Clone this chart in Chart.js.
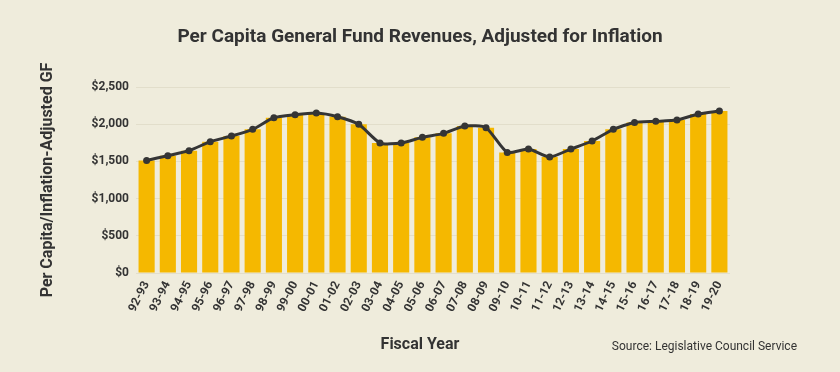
<!DOCTYPE html>
<html>
<head>
<meta charset="utf-8">
<script src="https://cdn.jsdelivr.net/npm/chart.js@4"></script>
<style>
  html, body { margin: 0; padding: 0; background: #EFECDC; }
  #wrap { width: 840px; height: 372px; }
</style>
</head>
<body>
<div id="wrap"><canvas id="c" width="840" height="372"></canvas></div>
<script>
const categories = ["92-93","93-94","94-95","95-96","96-97","97-98","98-99","99-00","00-01","01-02","02-03","03-04","04-05","05-06","06-07","07-08","08-09","09-10","10-11","11-12","12-13","13-14","14-15","15-16","16-17","17-18","18-19","19-20"];
const barValues = [1513,1577,1644,1765,1841,1931,2088,2128,2150,2101,1998,1747,1747,1823,1877,1976,1953,1621,1666,1559,1666,1774,1931,2024,2038,2056,2137,2177];
const lineValues = [1513,1577,1644,1765,1841,1931,2088,2128,2150,2101,1998,1747,1747,1823,1877,1976,1953,1621,1666,1559,1666,1774,1931,2024,2038,2056,2137,2177];
const yTicks = [0, 500, 1000, 1500, 2000, 2500];
const titleText = "Per Capita General Fund Revenues, Adjusted for Inflation";
const yTitle = "Per Capita/Inflation-Adjusted GF";
const xTitle = "Fiscal Year";
const sourceText = "Source: Legislative Council Service";

const FONT = "Roboto, 'Liberation Sans', sans-serif";
const DARK = "#333333";

const bgPlugin = {
  id: 'bg',
  beforeDraw(chart) {
    const ctx = chart.ctx;
    ctx.save();
    ctx.fillStyle = '#EFECDC';
    ctx.fillRect(0, 0, chart.width, chart.height);
    ctx.restore();
  }
};
const sourcePlugin = {
  id: 'source',
  afterDraw(chart) {
    const ctx = chart.ctx;
    ctx.save();
    ctx.font = "12px " + FONT;
    ctx.fillStyle = DARK;
    ctx.textAlign = 'right';
    ctx.textBaseline = 'middle';
    ctx.fillText(sourceText, 797, 347);
    ctx.restore();
  }
};

new Chart(document.getElementById('c'), {
  data: {
    labels: categories,
    datasets: [
      {
        type: 'line',
        data: lineValues,
        borderColor: '#353535',
        backgroundColor: '#353535',
        borderWidth: 3,
        pointRadius: 3.5,
        pointBorderWidth: 0,
        pointHoverRadius: 3.5,
        tension: 0.2,
        order: 0
      },
      {
        type: 'bar',
        data: barValues,
        backgroundColor: '#F5B800',
        barPercentage: 0.76,
        categoryPercentage: 1.0,
        order: 1
      }
    ]
  },
  options: {
    responsive: false,
    animation: false,
    devicePixelRatio: 1,
    layout: { padding: 0 },
    plugins: {
      legend: { display: false },
      tooltip: { enabled: false },
      title: {
        display: true,
        text: titleText,
        color: DARK,
        font: { family: FONT, size: 19, weight: 'bold' },
        padding: { top: 25.6, bottom: 38.6 }
      },
      subtitle: {
        display: true,
        position: 'bottom',
        text: xTitle,
        color: DARK,
        font: { family: FONT, size: 16, weight: 'bold' },
        padding: { top: 14.4, bottom: 17.4 }
      }
    },
    scales: {
      x: {
        grid: { display: false, drawTicks: false },
        border: { display: false },
        afterFit(axis) { axis.height = 48; },
        ticks: {
          color: DARK,
          font: { family: FONT, size: 12, weight: 'bold' },
          minRotation: 63,
          maxRotation: 63,
          padding: 6,
          autoSkip: false
        }
      },
      y: {
        min: 0,
        max: 2500,
        afterBuildTicks(axis) { axis.ticks = yTicks.map(v => ({ value: v })); },
        afterFit(axis) { axis.width = 136; },
        grid: { color: '#E2DECB', lineWidth: 1, drawTicks: false },
        border: { display: false },
        title: {
          display: true,
          text: yTitle,
          color: DARK,
          font: { family: FONT, size: 16, weight: 'bold' },
          padding: { top: 38.4, bottom: 0 }
        },
        ticks: {
          color: DARK,
          font: { family: FONT, size: 12, weight: 'bold' },
          padding: 7,
          callback: v => '$' + Number(v).toLocaleString('en-US')
        }
      },
      yRight: {
        position: 'right',
        display: true,
        min: 0,
        max: 1,
        afterFit(axis) { axis.width = 110; },
        grid: { display: false, drawTicks: false },
        border: { display: false },
        ticks: { display: false }
      }
    }
  },
  plugins: [bgPlugin, sourcePlugin]
});
</script>
</body>
</html>
